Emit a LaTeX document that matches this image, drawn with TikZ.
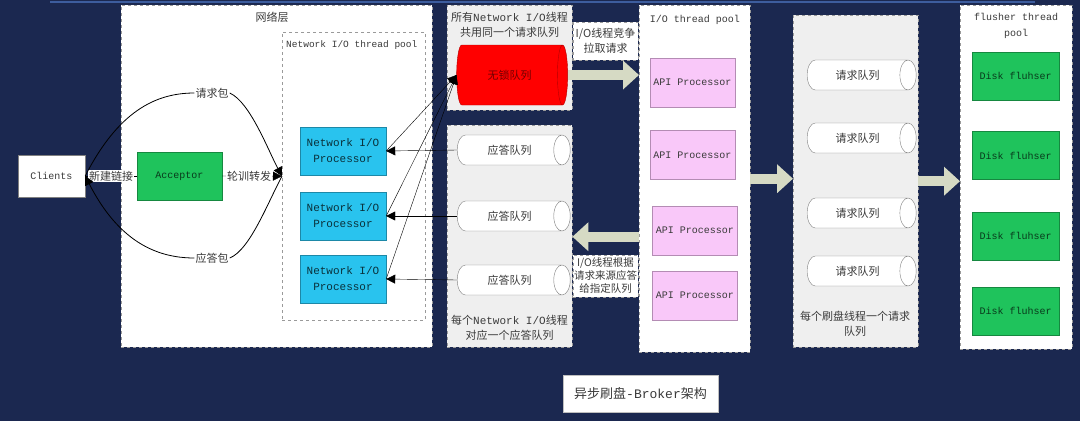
\documentclass[tikz,border=0pt]{standalone}
\usepackage{fontspec}
\setmainfont{Liberation Mono}
\newfontfamily\cjk{Noto Sans CJK SC}
\usetikzlibrary{shapes.geometric,arrows.meta}
\definecolor{navy}{HTML}{1B2850}
\definecolor{topblue}{HTML}{3D5D9E}
\definecolor{panelgray}{HTML}{EFEFEF}
\definecolor{dashgray}{HTML}{9A9A9A}
\definecolor{cyanbox}{HTML}{29C3EE}
\definecolor{greenbox}{HTML}{1FC35C}
\definecolor{pinkbox}{HTML}{F9C8F9}
\definecolor{pinkline}{HTML}{B48CB4}
\definecolor{blockarr}{HTML}{D6DAC4}
\definecolor{txt}{HTML}{3A3A3A}
\begin{document}
\begin{tikzpicture}[x=1pt,y=-1pt,
  font=\fontsize{10}{12}\selectfont,
  grp/.style={draw=dashgray, dashed, fill=white, inner sep=0pt, anchor=north west},
  grpg/.style={grp, fill=panelgray},
  lbl/.style={text=txt, inner sep=1pt, align=center, font=\fontsize{11}{15}\selectfont},
  whitebox/.style={draw=gray, fill=white, inner sep=0pt, text=txt},
  procbox/.style={draw=cyanbox!70!black, fill=cyanbox, minimum width=86pt, minimum height=48pt, inner sep=0pt, align=center, text=black!75!cyanbox, font=\fontsize{11}{16}\selectfont},
  apibox/.style={draw=pinkline, fill=pinkbox, minimum width=85pt, minimum height=49pt, inner sep=0pt, text=txt},
  diskbox/.style={draw=greenbox!70!black, fill=greenbox, minimum width=87pt, minimum height=48pt, inner sep=0pt, text=black!70!greenbox},
  cyl/.style={cylinder, shape aspect=1.6, draw=gray, fill=white, inner sep=0pt, minimum width=30pt, minimum height=111pt, text=txt, font=\fontsize{11}{13}\selectfont},
  tip/.style={-{Triangle[length=9pt,width=9pt]}},
  curve/.style={line width=0.8pt},
  barrow/.style={draw=blockarr, line width=10pt, -{Triangle[length=16pt,width=28pt]}},
  curvelbl/.style={fill=white, inner sep=1pt, text=txt, font=\fontsize{11}{13}\selectfont}
]
\fill[navy] (0,0) rectangle (1080,421);
\useasboundingbox (0,0) rectangle (1080,421);
\draw[topblue, line width=2pt] (50,2) -- (1035,2);

% ---------- network layer ----------
\node[grp, minimum width=311pt, minimum height=342pt] (net) at (121,5) {};
\node[lbl] (nettitle) at (272,17) {\cjk 网络层};
\node[grp, minimum width=143pt, minimum height=288pt] (pool) at (282,32) {};
\node[anchor=west, text=txt, inner sep=0pt, font=\fontsize{9.5}{11}\selectfont] (pooltitle) at (286,45) {Network I/O thread pool};

\node[whitebox, minimum width=67pt, minimum height=42pt] (clients) at (51.5,176) {Clients};
\node[draw=greenbox!70!black, fill=greenbox, minimum width=85pt, minimum height=48pt, inner sep=0pt, text=black!70!greenbox] (acc) at (179.5,176) {Acceptor};

\node[procbox] (p1) at (343,151) {Network I/O\\Processor};
\node[procbox] (p2) at (343,216) {Network I/O\\Processor};
\node[procbox] (p3) at (343,279) {Network I/O\\Processor};

\node[curvelbl] (req) at (212,93) {\cjk 请求包};
\node[curvelbl] (resp) at (212,258) {\cjk 应答包};

\draw (acc.west) -- node[curvelbl, fill=white] (newlink) {\cjk 新建链接} (clients.east);
\draw[tip] (acc.east) -- node[curvelbl, pos=0.45] (poll) {\cjk 轮训转发} (pool.west);
\draw[curve] (clients.east) .. controls (118,112) and (155,93) .. (req.west);
\draw[curve,tip] (req.east) .. controls (250,102) and (268,150) .. (pool.west);
\draw[curve] (pool.west) .. controls (268,202) and (250,250) .. (resp.east);
\draw[curve,tip] (resp.west) .. controls (155,258) and (118,240) .. (clients.east);

% ---------- queue column ----------
\node[grpg, minimum width=125pt, minimum height=105pt] (topq) at (447,5) {};
\node[lbl] (topqtxt) at (509.5,25) {{\cjk 所有}Network I/O{\cjk 线程}\\{\cjk 共用同一个请求队列}};
\node[cyl, fill=red, draw=red!70!black, minimum width=60pt, minimum height=111pt, shape aspect=1.0, text=red!45!black] (redq) at (509.5,75) {\cjk 无锁队列};

\node[grpg, minimum width=125pt, minimum height=222pt] (respbox) at (447,125) {};
\node[cyl, minimum height=113pt] (r1) at (509.5,150) {\cjk 应答队列};
\node[cyl, minimum height=113pt] (r2) at (509.5,216) {\cjk 应答队列};
\node[cyl, minimum height=113pt] (r3) at (509.5,280) {\cjk 应答队列};
\node[lbl] (resptxt) at (509.5,328) {{\cjk 每个}Network I/O{\cjk 线程}\\{\cjk 对应一个应答队列}};

\draw[tip] (p1.east) -- (redq.west);
\draw[tip] (p2.east) -- (redq.west);
\draw[tip] (p3.east) -- (redq.west);
\draw[tip] (r1.west) -- (p1.east);
\draw[tip] (r2.west) -- (p2.east);
\draw[tip] (r3.west) -- (p3.east);

% ---------- I/O thread pool ----------
\node[grp, minimum width=111pt, minimum height=347pt] (iopool) at (639,5) {};
\node[text=txt, font=\fontsize{10}{12}\selectfont] (iotitle) at (695,20) {I/O thread pool};
\node[apibox] (a1) at (692.5,82.5) {API Processor};
\node[apibox] (a2) at (692.5,155) {API Processor};
\node[apibox] (a3) at (695,230.5) {API Processor};
\node[apibox] (a4) at (695,295.5) {API Processor};

\node[grp, minimum width=65pt, minimum height=38pt] (lb1) at (573,22) {};
\node[lbl] (lb1txt) at (605.5,41) {{\cjk I/O线程竞争}\\{\cjk 拉取请求}};
\node[grp, minimum width=65pt, minimum height=42pt] (lb2) at (573,255) {};
\node[lbl, font=\fontsize{10.5}{13}\selectfont] (lb2txt) at (605.5,276) {{\cjk I/O线程根据}\\{\cjk 请求来源应答}\\{\cjk 给指定队列}};

\draw[barrow] (redq.east) -- (redq.east -| iopool.west);
\draw[barrow] ([yshift=-58pt]iopool.west) -- ([yshift=-58pt]iopool.west -| respbox.east);

% ---------- request queues ----------
\node[grpg, minimum width=125pt, minimum height=332pt] (reqbox) at (793,15) {};
\node[cyl, minimum height=109pt] (q1) at (857.5,75) {\cjk 请求队列};
\node[cyl, minimum height=109pt] (q2) at (857.5,138) {\cjk 请求队列};
\node[cyl, minimum height=109pt] (q3) at (857.5,213) {\cjk 请求队列};
\node[cyl, minimum height=109pt] (q4) at (857.5,271) {\cjk 请求队列};
\node[lbl] (reqtxt) at (855,324) {{\cjk 每个刷盘线程一个请求}\\{\cjk 队列}};

\draw[barrow] (iopool.east) -- (iopool.east -| reqbox.west);

% ---------- flusher pool ----------
\node[grp, minimum width=112pt, minimum height=344pt] (flush) at (960,5) {};
\node[text=txt, align=center, font=\fontsize{10}{16}\selectfont] (flushtitle) at (1016,26) {flusher thread\\pool};
\node[diskbox] (d1) at (1015.5,76) {Disk fluhser};
\node[diskbox] (d2) at (1015.5,155.5) {Disk fluhser};
\node[diskbox] (d3) at (1015.5,236) {Disk fluhser};
\node[diskbox] (d4) at (1015.5,311) {Disk fluhser};

\draw[barrow] (reqbox.east) -- (reqbox.east -| flush.west);

% ---------- caption ----------
\node[whitebox, draw=gray!50, minimum width=155pt, minimum height=37pt, font=\fontsize{13}{15}\selectfont] (caption) at (640.5,393.5) {{\cjk 异步刷盘}-Broker{\cjk 架构}};
\end{tikzpicture}
\end{document}
